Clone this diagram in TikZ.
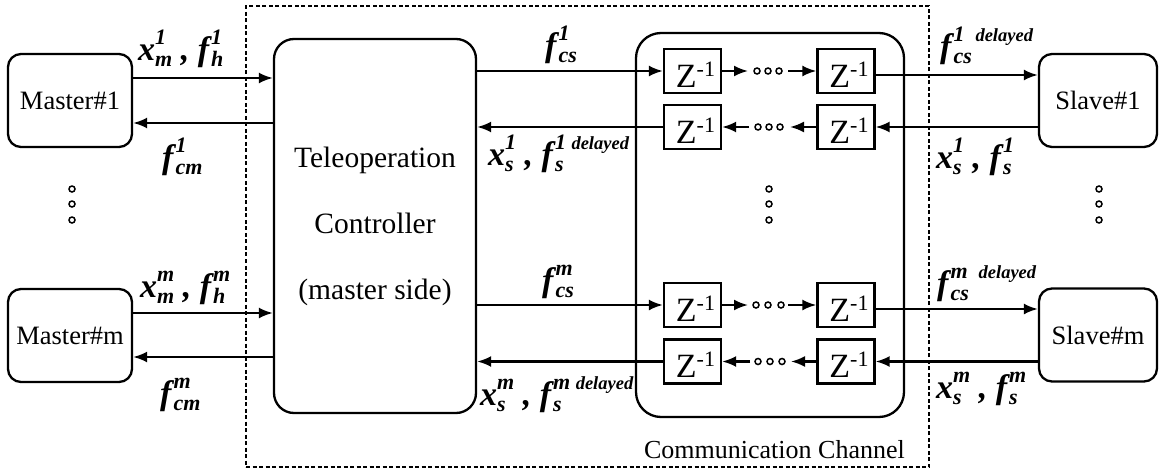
\documentclass[tikz,border=0pt]{standalone}
\usepackage{fontspec}
\setmainfont{Liberation Serif}
\usetikzlibrary{arrows.meta}
\newcommand{\lbf}{\fontsize{34}{36}\selectfont\bfseries\itshape}
\newcommand{\scf}{\fontsize{22}{24}\selectfont\bfseries\itshape}
\newcommand{\dlf}{\fontsize{18.5}{20}\selectfont\bfseries\itshape}
\newcommand{\SupSub}[2]{\setbox0=\hbox{\scf #1}\setbox2=\hbox{\scf #2}\ifdim\wd0>\wd2 \dimen0=\wd0 \else \dimen0=\wd2 \fi\hbox to \dimen0{\rlap{\raise16pt\box0}\lower6pt\box2\hfil}}
\newcommand{\Fk}{f\kern2pt}
\newcommand{\zinv}{{\hspace*{6pt}\fontsize{34}{34}\selectfont Z\raisebox{11pt}{\fontsize{22}{22}\selectfont -1}}}
\begin{document}
\begin{tikzpicture}[x=1pt,y=-1pt,
  box/.style={draw,line width=2.3pt,rounded corners=13pt,inner sep=0pt,font=\fontsize{26.5}{30}\selectfont},
  zbox/.style={draw,line width=2.3pt,minimum width=57pt,minimum height=44pt,inner sep=0pt,text height=32pt,text depth=0pt},
  arr/.style={line width=2.2pt,-{Latex[length=14pt,width=11pt]}},
  lab/.style={inner sep=0pt,anchor=base west,font=\lbf},
  dotc/.style={circle,draw,line width=1.5pt,fill=white,minimum size=6pt,inner sep=0pt},
]
\useasboundingbox (0,0) rectangle (1170,471);
% frame
\node[draw,line width=1.7pt,dash pattern=on 4pt off 2.5pt,minimum width=683pt,minimum height=461pt,inner sep=0pt] (frame) at (587.5,236.5) {};
% boxes
\node[box,minimum width=124pt,minimum height=93pt] (m1) at (70,100.5) {Master\#1};
\node[box,minimum width=124pt,minimum height=93pt] (mm) at (70,335.5) {Master\#m};
\node[box,minimum width=118pt,minimum height=93pt] (s1) at (1098,100.5) {Slave\#1};
\node[box,minimum width=118pt,minimum height=93pt] (sm) at (1098,335) {Slave\#m};
\node[box,rounded corners=20pt,minimum width=202pt,minimum height=374pt,align=center,font=\fontsize{29.5}{66}\selectfont] (ctrl) at (375,226) {Teleoperation\\Controller\\(master side)};
\node[box,rounded corners=25pt,minimum width=268pt,minimum height=384pt] (chan) at (770,225) {};
\node[anchor=base east,inner sep=0pt,font=\fontsize{26}{28}\selectfont] (cc) at (905,458) {Communication Channel};
% delay blocks
\node[zbox] (a1) at (692.5,71) {\zinv};
\node[zbox] (b1) at (846,71) {\zinv};
\node[zbox] (a2) at (692.5,127) {\zinv};
\node[zbox] (b2) at (846,127) {\zinv};
\node[zbox] (a3) at (692.5,305) {\zinv};
\node[zbox] (b3) at (846,305) {\zinv};
\node[zbox] (a4) at (692.5,361.5) {\zinv};
\node[zbox] (b4) at (846,361.5) {\zinv};
% chain coordinates and dots
\coordinate (p1) at (748,71);  \coordinate (q1) at (788,71);
\coordinate (p2) at (790,127); \coordinate (q2) at (749,127);
\coordinate (p3) at (748,305); \coordinate (q3) at (788,305);
\coordinate (p4) at (791,361.5); \coordinate (q4) at (750,361.5);
\node[dotc] (d11) at (757,71) {}; \node[dotc] (d12) at (768,71) {}; \node[dotc] (d13) at (779,71) {};
\node[dotc] (d21) at (758,127) {}; \node[dotc] (d22) at (769,127) {}; \node[dotc] (d23) at (780,127) {};
\node[dotc] (d31) at (756,305) {}; \node[dotc] (d32) at (768,305) {}; \node[dotc] (d33) at (781,305) {};
\node[dotc] (d41) at (758,361.5) {}; \node[dotc] (d42) at (770,361.5) {}; \node[dotc] (d43) at (782,361.5) {};
% vertical dots
\node[dotc] (v1) at (72,189) {}; \node[dotc] (v2) at (72,204) {}; \node[dotc] (v3) at (72,220) {};
\node[dotc] (v4) at (769,189) {}; \node[dotc] (v5) at (769,204) {}; \node[dotc] (v6) at (769,220) {};
\node[dotc] (v7) at (1099,189) {}; \node[dotc] (v8) at (1099,204) {}; \node[dotc] (v9) at (1099,220) {};
% arrows master side
\draw[arr] (m1.east |- 0,78) -- (ctrl.west |- 0,78);
\draw[arr] (ctrl.west |- 0,123) -- (m1.east |- 0,123);
\draw[arr] (mm.east |- 0,313) -- (ctrl.west |- 0,313);
\draw[arr] (ctrl.west |- 0,357) -- (mm.east |- 0,357);
% row 1
\draw[arr] (ctrl.east |- a1.west) -- (a1.west);
\draw[arr] (a1.east) -- (p1);
\draw[arr] (q1) -- (b1.west);
\draw[arr] (b1.east |- 0,75) -- (s1.west |- 0,75);
% row 2
\draw[arr] (s1.west |- b2.east) -- (b2.east);
\draw[arr] (b2.west) -- (p2);
\draw[arr] (q2) -- (a2.east);
\draw[arr] (a2.west) -- (ctrl.east |- a2.west);
% row 3
\draw[arr] (ctrl.east |- a3.west) -- (a3.west);
\draw[arr] (a3.east) -- (p3);
\draw[arr] (q3) -- (b3.west);
\draw[arr] (b3.east |- 0,309) -- (sm.west |- 0,309);
% row 4
\draw[arr] (sm.west |- b4.east) -- (b4.east);
\draw[arr] (b4.west) -- (p4);
\draw[arr] (q4) -- (a4.east);
\draw[arr] (a4.west) -- (ctrl.east |- a4.west);
% labels
\node[lab] (l1) at (138,60) {x\SupSub{1}{m}\ , \Fk\SupSub{1}{h}};
\node[lab] (l2) at (162,168) {\Fk\SupSub{1}{cm}};
\node[lab] (l3) at (140,297) {x\SupSub{m}{m}\ , \Fk\SupSub{m}{h}};
\node[lab] (l4) at (160,404) {\Fk\SupSub{m}{cm}};
\node[lab] (l5) at (545,56) {\Fk\SupSub{1}{cs}};
\node[lab] (l6) at (488,165) {x\SupSub{1}{s} , \Fk\SupSub{1 {\dlf delayed}}{s}};
\node[lab] (l7) at (940,57) {\Fk\SupSub{1\ \ {\dlf delayed}}{cs}};
\node[lab] (l8) at (936,168) {x\SupSub{1}{s} , \Fk\SupSub{1}{s}};
\node[lab] (l9) at (542,291) {\Fk\SupSub{m}{cs}};
\node[lab] (l10) at (480,405) {x\SupSub{m}{s} , \Fk\SupSub{m\ {\dlf delayed}}{s}};
\node[lab] (l11) at (937,294) {\Fk\SupSub{m\ \ {\dlf delayed}}{cs}};
\node[lab] (l12) at (936,398) {x\SupSub{m}{s}\ , \Fk\SupSub{m}{s}};
\end{tikzpicture}
\end{document}
